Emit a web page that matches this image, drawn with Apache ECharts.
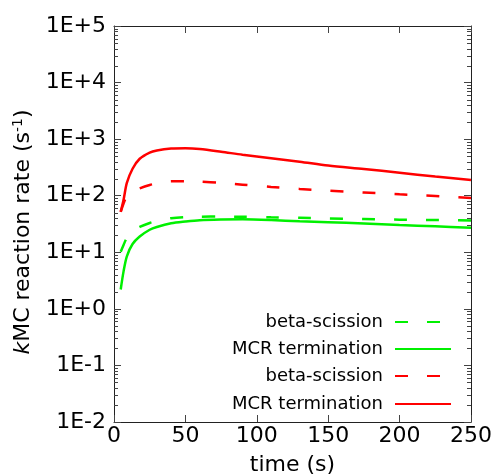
<!DOCTYPE html>
<html>
<head>
<meta charset="utf-8">
<script src="https://cdn.jsdelivr.net/npm/echarts@6/dist/echarts.min.js"></script>
<style>
html,body{margin:0;padding:0;background:#fff;}
#chart{width:491px;height:475px;}
</style>
</head>
<body>
<div id="chart"></div>
<script>
// time points (s)
const times = [4.7, 6.7, 9, 13, 18, 25, 30, 40, 50, 60, 75, 90, 110, 130, 150, 175, 200, 225, 250];
// green: beta-scission (dashed)
const greenBeta = [10.2, 13.5, 18, 23.5, 28, 33, 36, 40, 42, 42.5, 42.8, 42.5, 41.5, 40.8, 39.5, 38.7, 37.7, 37.2, 36.5];
// green: MCR termination (solid)
const greenTerm = [2.2, 4.6, 8.5, 14, 19, 25, 28, 32.5, 35, 37, 38, 38.3, 37.2, 35.3, 34, 32.2, 30.3, 28.8, 27.2];
// red: beta-scission (dashed)
const redBeta = [52, 73, 98, 118, 135, 155, 165, 180, 181, 178, 168, 157, 143, 132, 123, 114, 106, 99, 91];
// red: MCR termination (solid)
const redTerm = [52, 85, 168, 300, 450, 580, 630, 680, 690, 670, 600, 530, 460, 400, 342, 297, 255, 218, 190];

const legendLabels = ['beta-scission', 'MCR termination', 'beta-scission', 'MCR termination'];
// y decades (exponents) and minor tick values (2..9 per decade)
const yExpMin = -2, yExpMax = 5;
const yMinor = [];
for (let e = yExpMin; e < yExpMax; e++) for (let m = 2; m <= 9; m++) yMinor.push(m * Math.pow(10, e));

const FONT = 'DejaVu Sans';
const GREEN = '#00f000';
const RED = '#ff0000';

function pairs(vals) { return times.map((t, i) => [t, vals[i]]); }

const seriesDefs = [
  { key: 'gb', vals: greenBeta, color: GREEN, dash: [13, 19] },
  { key: 'gt', vals: greenTerm, color: GREEN, dash: 'solid' },
  { key: 'rb', vals: redBeta, color: RED, dash: [13, 19] },
  { key: 'rt', vals: redTerm, color: RED, dash: 'solid' }
];

const legendTops = [313, 340, 367, 395];

const chart = echarts.init(document.getElementById('chart'), null, { renderer: 'canvas' });

const axisLineStyle = { color: '#222', width: 1 };
const tickStyle = { color: '#444', width: 1 };

const yTickBase = {
  type: 'value', min: yExpMin, max: yExpMax, interval: 1,
  splitLine: { show: false }
};

const series = seriesDefs.map(s => ({
  name: s.key,
  type: 'line',
  xAxisIndex: 0, yAxisIndex: 0,
  data: pairs(s.vals),
  smooth: 0.3,
  symbol: 'none',
  showSymbol: false,
  color: s.color,
  lineStyle: { color: s.color, width: 2.5, type: s.dash },
  itemStyle: { color: s.color },
  z: 3
}));

// minor log ticks on left and right frame, placed through the log y scale
series.push({
  type: 'custom',
  name: 'minorTicks',
  xAxisIndex: 0, yAxisIndex: 0,
  silent: true,
  clip: false,
  data: yMinor.map(v => [0, v]),
  encode: { x: 0, y: 1 },
  renderItem: (params, api) => {
    const v = api.value(1);
    const pl = api.coord([0, v]);
    const pr = api.coord([250, v]);
    const st = { stroke: '#444', lineWidth: 1 };
    const y = Math.round(pl[1]) + 0.5;
    return {
      type: 'group',
      children: [
        { type: 'line', shape: { x1: pl[0], y1: y, x2: pl[0] + 4, y2: y }, style: st },
        { type: 'line', shape: { x1: pr[0] - 4, y1: y, x2: pr[0], y2: y }, style: st }
      ]
    };
  },
  z: 2
});

chart.setOption({
  animation: false,
  backgroundColor: '#fff',
  grid: { left: 114, right: 20, top: 26, bottom: 53, outerBoundsMode: 'none' },
  xAxis: [
    {
      type: 'value', position: 'bottom', min: 0, max: 250, interval: 50,
      axisLine: { show: true, onZero: false, lineStyle: axisLineStyle },
      axisTick: { show: true, inside: true, length: 7, lineStyle: tickStyle },
      axisLabel: { fontFamily: FONT, fontSize: 22, color: '#000', margin: 3 },
      splitLine: { show: false },
      name: 'time (s)', nameLocation: 'middle', nameGap: 32,
      nameTextStyle: { fontFamily: FONT, fontSize: 22, color: '#000' }
    },
    {
      type: 'value', position: 'top', min: 0, max: 250, interval: 50,
      axisLine: { show: true, onZero: false, lineStyle: axisLineStyle },
      axisTick: { show: true, inside: true, length: 7, lineStyle: tickStyle },
      axisLabel: { show: false }, splitLine: { show: false }
    }
  ],
  yAxis: [
    // data axis (log scale) used by the series
    {
      type: 'log', logBase: 10, min: Math.pow(10, yExpMin), max: Math.pow(10, yExpMax),
      position: 'left', show: false, splitLine: { show: false },
      axisLine: { onZero: false }
    },
    // left: decades with labels (log10 space)
    Object.assign({}, yTickBase, {
      position: 'left',
      axisLine: { show: true, onZero: false, lineStyle: axisLineStyle },
      axisTick: { show: true, inside: true, length: 7, lineStyle: tickStyle },
      axisLabel: {
        fontFamily: FONT, fontSize: 22, color: '#000', margin: 8,
        formatter: v => { const e = Math.round(v); return '1E' + (e >= 0 ? '+' : '') + e; }
      },
      name: '{i|k}MC reaction rate (s{sup|-1})', nameLocation: 'middle', nameGap: 52, nameRotate: 90,
      nameTextStyle: {
        fontFamily: FONT, fontSize: 22, color: '#000', padding: [0, 16, 0, 0],
        rich: {
          i: { fontFamily: FONT, fontSize: 22, fontStyle: 'italic', color: '#000' },
          sup: { fontFamily: FONT, fontSize: 14, color: '#000', verticalAlign: 'top', padding: [0, 0, 10, 0] }
        }
      }
    }),
    // right: decades
    Object.assign({}, yTickBase, {
      position: 'right',
      axisLine: { show: true, onZero: false, lineStyle: axisLineStyle },
      axisTick: { show: true, inside: true, length: 7, lineStyle: tickStyle },
      axisLabel: { show: false }
    })
  ],
  legend: seriesDefs.map((s, i) => ({
    data: [s.key],
    orient: 'horizontal',
    align: 'right',
    right: 39,
    top: legendTops[i],
    padding: 0,
    itemWidth: 56,
    itemHeight: 14,
    selectedMode: false,
    formatter: () => legendLabels[i],
    itemStyle: { color: 'rgba(0,0,0,0)', borderColor: 'rgba(0,0,0,0)', borderWidth: 0, opacity: 0 },
    textStyle: { fontFamily: FONT, fontSize: 18, color: '#000', padding: [0, 7, 0, 0] }
  })),
  series: series
});
</script>
</body>
</html>
